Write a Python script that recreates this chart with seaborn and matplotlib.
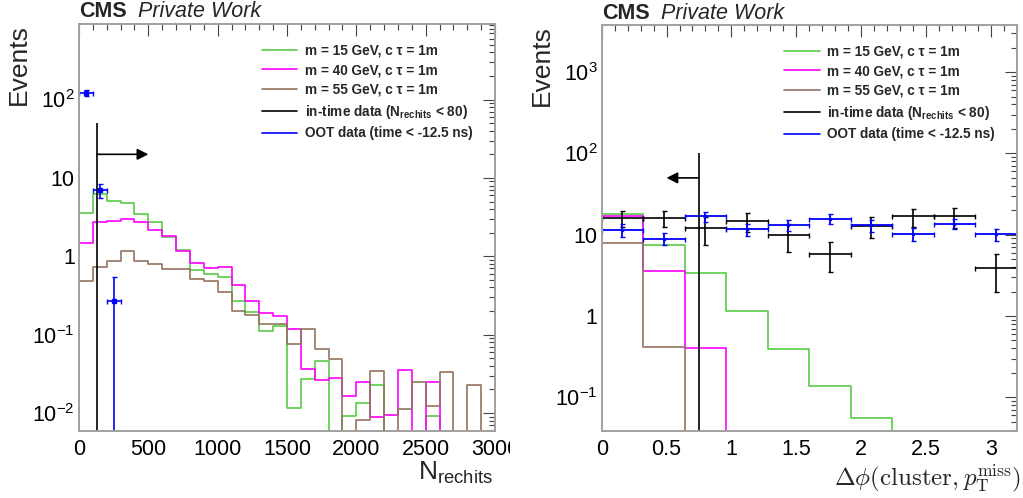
import numpy as np
import pandas as pd
import matplotlib
matplotlib.use("Agg")
import matplotlib.pyplot as plt
import seaborn as sns
from matplotlib.lines import Line2D
from matplotlib.ticker import LogLocator, FuncFormatter, MultipleLocator, NullFormatter

# ---------------- N_rechits distributions (bin width 100) ----------------
nrh_edges = np.arange(0, 3001, 100)
nrh_m15 = [3.6, 6.2, 5.1, 4.85, 3.45, 2.75, 1.78, 1.19, 0.66, 0.59,
           0.55, 0.27, 0.195, 0.113, 0.13, 0.0116, 0.0275, 0.0467, 0, 0.0091,
           0.0136, 0.0227, 0, 0, 0, 0.0093, 0, 0, 0, 0]
nrh_m40 = [1.49, 2.75, 2.81, 3.0, 2.7, 2.15, 1.79, 1.17, 0.83, 0.71,
           0.72, 0.425, 0.27, 0.19, 0.175, 0.118, 0.036, 0.0267, 0.028, 0.0167,
           0.0247, 0.0088, 0.0095, 0.0352, 0, 0.0247, 0, 0, 0, 0]
nrh_m55 = [0.49, 0.73, 0.88, 1.16, 0.88, 0.80, 0.68, 0.69, 0.51, 0.49,
           0.35, 0.198, 0.18, 0.137, 0.135, 0.077, 0.117, 0.065, 0.049, 0,
           0.0081, 0.034, 0, 0.0114, 0.0247, 0.0122, 0.033, 0, 0.0226, 0]
nrh_oot_x = [50, 150, 250]
nrh_oot_y = [122, 7.0, 0.27]
nrh_oot_err = [11, 1.4, 0.28]
nrh_cut = 130
nrh_cut_top = 50
nrh_arrow_y = 20
nrh_arrow_end = 500

# ---------------- Delta phi distributions (bin width 0.32) ----------------
dphi_edges = np.round(np.arange(0, 3.21, 0.32), 2)
dphi_m15 = [17.8, 7.5, 3.35, 1.16, 0.39, 0.138, 0.055, 0, 0, 0]
dphi_m40 = [17.1, 3.6, 0.40, 0, 0, 0, 0, 0, 0, 0]
dphi_m55 = [8.0, 0.42, 0, 0, 0, 0, 0, 0, 0, 0]
dphi_intime_y = [15.9, 15.9, 12.0, 14.7, 9.9, 5.8, 12.9, 16.8, 16.8, 3.9]
dphi_intime_err = [3.6, 3.6, 4.5, 4.0, 3.7, 2.35, 3.7, 4.2, 4.7, 1.95]
dphi_oot_y = [11.5, 8.9, 16.8, 11.7, 13.2, 15.6, 13.0, 10.2, 13.6, 10.1]
dphi_oot_err = [2.0, 1.5, 2.4, 2.0, 2.0, 2.2, 2.1, 1.8, 1.9, 1.8]
dphi_cut = 0.75
dphi_cut_top = 100
dphi_arrow_y = 50
dphi_arrow_end = 0.5

labels = ["m = 15 GeV, c \u03c4 = 1m", "m = 40 GeV, c \u03c4 = 1m",
          "m = 55 GeV, c \u03c4 = 1m",
          r"in-time data (N$_{\mathbf{rechits}}$ < 80)",
          "OOT data (time < -12.5 ns)"]
colors = ["#55cc44", "#ff00ff", "#94735f", "black", "#0000ff"]

sns.set_theme(style="white")
plt.rcParams["font.family"] = ["Liberation Sans", "DejaVu Sans"]
plt.rcParams["mathtext.fontset"] = "custom"
plt.rcParams["mathtext.rm"] = "Liberation Sans"
plt.rcParams["mathtext.it"] = "Liberation Sans:italic"
plt.rcParams["mathtext.bf"] = "Liberation Sans:bold"

fig = plt.figure(figsize=(10.23, 4.98), dpi=100)
axL = fig.add_axes([79 / 1023, 67 / 498, 416 / 1023, 407 / 498], zorder=0)
cover = fig.add_axes([510 / 1023, 0, 513 / 1023, 1], zorder=1)
cover.set_axis_off()
cover.add_patch(plt.Rectangle((0, 0), 1, 1, color="white", transform=cover.transAxes))
axR = fig.add_axes([601.7 / 1023, 67 / 498, 415 / 1023, 406 / 498], zorder=2)


def log_label(v, pos):
    k = int(round(np.log10(v)))
    if k == 0:
        return "1"
    if k == 1:
        return "10"
    return r"$10^{%d}$" % k


def style_axes(ax, xmaj, xmin):
    ax.set_yscale("log")
    ax.yaxis.set_major_locator(LogLocator(base=10, numticks=20))
    ax.yaxis.set_minor_locator(LogLocator(base=10, subs=np.arange(2, 10), numticks=20))
    ax.yaxis.set_major_formatter(FuncFormatter(log_label))
    ax.yaxis.set_minor_formatter(NullFormatter())
    ax.xaxis.set_major_locator(MultipleLocator(xmaj))
    ax.xaxis.set_minor_locator(MultipleLocator(xmin))
    ax.xaxis.set_major_formatter(FuncFormatter(lambda v, p: "%g" % round(v, 3)))
    ax.tick_params(which="both", direction="in", top=True, right=True,
                   color="#444444", labelsize=15.5, labelcolor="black")
    ax.tick_params(which="major", length=8.5, width=0.8)
    ax.tick_params(which="minor", length=4.3, width=0.8)
    ax.tick_params(axis="x", which="major", pad=6)
    ax.tick_params(axis="y", which="major", pad=3)
    for s in ax.spines.values():
        s.set_color("#a0a0a0")
        s.set_linewidth(1.4)
    ax.grid(False)


def draw_hists(ax, edges, series):
    centers = 0.5 * (edges[:-1] + edges[1:])
    for vals, c in zip(series, colors[:3]):
        df = pd.DataFrame({"x": centers, "w": np.asarray(vals, dtype=float)})
        sns.histplot(data=df, x="x", weights="w", bins=list(edges), element="step",
                     fill=False, color=c, linewidth=1.2, ax=ax)


def legend(ax, x0):
    handles = [Line2D([], [], color=c, lw=1.2) for c in colors]
    ax.legend(handles, labels, loc="upper left", bbox_to_anchor=(x0, 0.952),
              frameon=False, prop={"weight": "bold", "size": 9.8},
              handlelength=2.6, handletextpad=0.55, labelspacing=0.42,
              borderpad=0, borderaxespad=0)


def cms_label(ax):
    ax.text(0.0, 1.016, "CMS", transform=ax.transAxes, fontsize=15.5,
            fontweight="bold", ha="left", va="baseline")
    ax.text(0.142, 1.016, "Private Work", transform=ax.transAxes, fontsize=15.5,
            fontstyle="italic", ha="left", va="baseline")


arrow_style = "-|>,head_length=0.55,head_width=0.28"

# ---------------- left: N_rechits ----------------
draw_hists(axL, nrh_edges, [nrh_m15, nrh_m40, nrh_m55])
axL.errorbar(nrh_oot_x, nrh_oot_y, xerr=50, yerr=nrh_oot_err, fmt="s",
             ms=2.5, color="#0000ff", elinewidth=1.2, capsize=1.8)
ylL = (0.0059, 920)
axL.vlines(nrh_cut, ylL[0], nrh_cut_top, color="black", lw=1.2)
axL.annotate("", xy=(nrh_arrow_end, nrh_arrow_y), xytext=(nrh_cut, nrh_arrow_y),
             arrowprops=dict(arrowstyle=arrow_style, color="black", lw=1.2,
                             shrinkA=0, shrinkB=0))
style_axes(axL, 500, 100)
axL.set_xlim(0, 3000)
axL.set_ylim(*ylL)
axL.set_ylabel("Events", fontsize=19, loc="top")
axL.yaxis.set_label_coords(-0.115, 1.0)
axL.set_xlabel(r"N$_{\mathrm{rechits}}$", fontsize=19, loc="right")
axL.xaxis.set_label_coords(0.995, -0.07)
legend(axL, 0.44)
cms_label(axL)

# ---------------- right: Delta phi ----------------
draw_hists(axR, dphi_edges, [dphi_m15, dphi_m40, dphi_m55])
dcent = 0.5 * (dphi_edges[:-1] + dphi_edges[1:])
axR.errorbar(dcent, dphi_intime_y, xerr=0.16, yerr=dphi_intime_err, fmt="none",
             ecolor="black", elinewidth=1.2, capsize=1.8)
axR.errorbar(dcent, dphi_oot_y, xerr=0.16, yerr=dphi_oot_err, fmt="s", ms=2,
             color="#0000ff", elinewidth=1.3, capsize=1.8)
ylR = (0.0385, 3800)
axR.vlines(dphi_cut, ylR[0], dphi_cut_top, color="black", lw=1.2)
axR.annotate("", xy=(dphi_arrow_end, dphi_arrow_y), xytext=(dphi_cut, dphi_arrow_y),
             arrowprops=dict(arrowstyle=arrow_style, color="black", lw=1.2,
                             shrinkA=0, shrinkB=0))
style_axes(axR, 0.5, 0.1)
axR.set_xlim(0, 3.2)
axR.set_ylim(*ylR)
axR.set_ylabel("Events", fontsize=19, loc="top")
axR.yaxis.set_label_coords(-0.115, 1.0)
axR.set_xlabel(r"$\Delta\phi(\mathrm{cluster},p_{\mathrm{T}}^{\mathrm{miss}})$",
               fontsize=18, loc="right", math_fontfamily="cm")
axR.xaxis.set_label_coords(1.01, -0.077)
legend(axR, 0.44)
cms_label(axR)

fig.savefig("out.png", dpi=100)
